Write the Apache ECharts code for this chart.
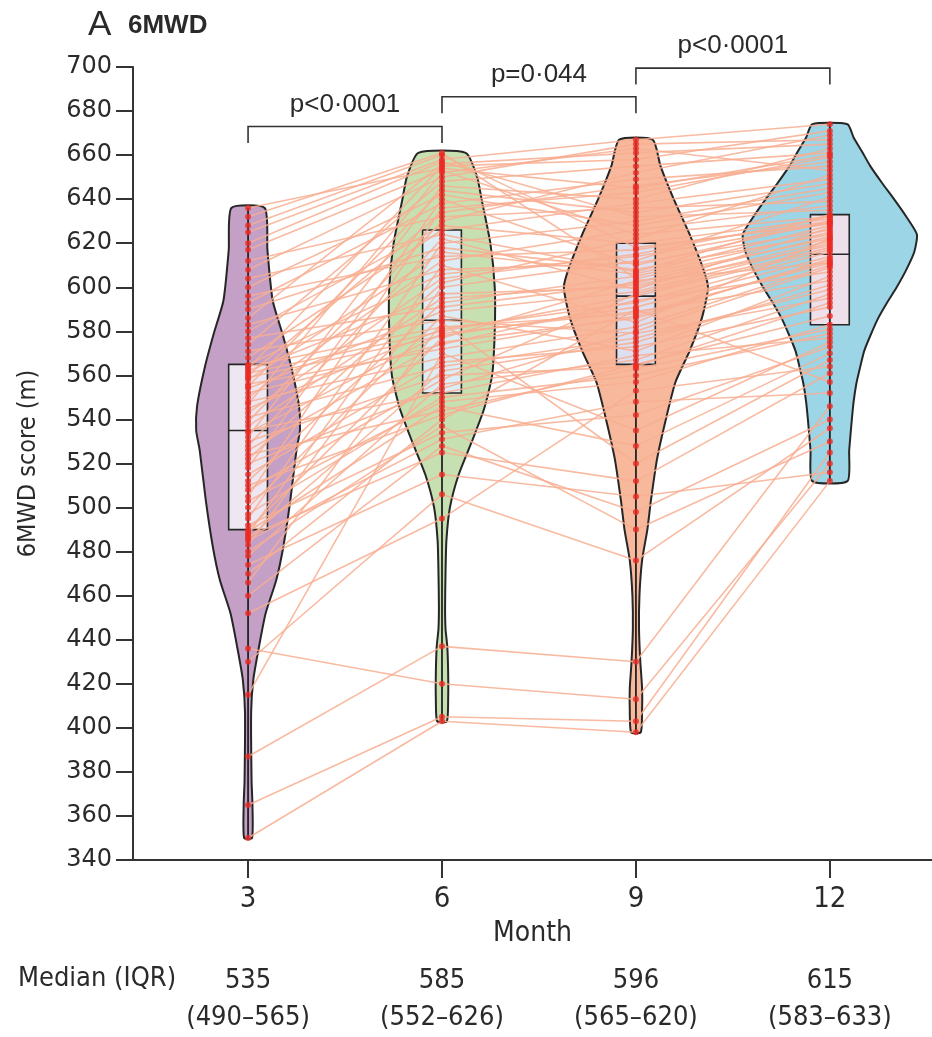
<!DOCTYPE html>
<html lang="en">
<head>
<meta charset="utf-8">
<script src="https://cdn.jsdelivr.net/npm/echarts@6/dist/echarts.min.js"></script>
<style>
    html, body { margin: 0; padding: 0; background: #fff; }
    #chartMain { width: 932px; height: 1037px; }
</style>
</head>
<body>

<div id="chartMain"></div>

<script>
    // months and summary stats printed under the axis
    var months = [3, 6, 9, 12];
    var medians = [535, 585, 596, 615];
    var q1 = [490, 552, 565, 583];
    var q3 = [565, 626, 620, 633];

    // pairwise comparisons shown as brackets
    var bracketFrom = [3, 6, 9];
    var bracketTo = [6, 9, 12];
    var pLabels = ['p<0·0001', 'p=0·044', 'p<0·0001'];

    // one row per patient: 6MWD (m) at month 3, 6, 9, 12
    var patients = [
        [350, 403, 398, 512], [365, 405, 403, 525], [387, 437, 430, 546], [415, 570, 535, 575],
        [430, 506, 476, 536], [436, 420, 413, 520], [452, 495, 553, 564], [460, 528, 498, 540],
        [466, 584, 520, 567], [470, 540, 590, 557], [474, 515, 505, 516], [478, 556, 567, 597],
        [480, 537, 490, 530], [483, 600, 612, 641], [485, 531, 548, 552], [486, 562, 575, 601],
        [487, 525, 512, 561], [488, 610, 584, 622], [489, 546, 528, 570], [490, 577, 603, 611],
        [492, 534, 542, 573], [495, 620, 630, 645], [497, 550, 560, 579], [500, 587, 571, 605],
        [503, 548, 557, 583], [505, 636, 643, 659], [508, 558, 597, 618], [510, 542, 565, 587],
        [512, 593, 605, 625], [515, 566, 573, 591], [518, 640, 610, 630], [520, 554, 580, 609],
        [522, 602, 622, 651], [524, 544, 563, 581], [526, 575, 586, 613], [528, 622, 599, 627],
        [530, 560, 564, 593], [532, 646, 640, 663], [534, 579, 589, 603], [535, 552, 569, 577],
        [537, 595, 601, 619], [539, 630, 652, 669], [541, 564, 577, 599], [543, 604, 615, 632],
        [545, 581, 593, 616], [547, 652, 663, 653], [548, 568, 582, 610], [550, 612, 626, 637],
        [552, 574, 594, 607], [554, 589, 598, 620], [555, 644, 634, 647], [556, 572, 587, 612],
        [558, 616, 606, 628], [559, 578, 591, 614], [560, 634, 646, 657], [561, 580, 596, 617],
        [562, 597, 600, 621], [563, 655, 658, 671], [564, 582, 588, 611], [565, 606, 614, 629],
        [568, 626, 638, 649], [571, 585, 579, 595], [574, 648, 655, 661], [577, 591, 602, 623],
        [580, 628, 620, 631], [583, 608, 611, 626], [586, 656, 661, 665], [590, 618, 608, 624],
        [593, 638, 649, 655], [596, 614, 617, 630], [600, 642, 628, 643], [604, 624, 607, 633],
        [608, 650, 665, 667], [612, 632, 636, 639], [617, 653, 624, 632], [620, 657, 632, 635],
        [625, 658, 667, 674], [628, 660, 618, 629], [632, 661, 604, 622], [636, 654, 645, 660]
    ];

    // violin outlines: [6MWD, relative density]
    var density3 = [[636, 19], [617, 22], [594, 28], [579, 39], [564, 49], [546, 58], [535, 59],
        [526, 55], [503, 48], [482, 40], [467, 32], [452, 20], [437, 12.5], [422, 6], [407, 3.5],
        [376, 4], [365, 5], [350, 4.5]];
    var density6 = [[661, 27], [650, 40], [640, 45], [620, 55], [600, 60], [580, 60], [560, 57],
        [545, 48], [530, 34], [515, 19], [500, 9], [485, 5], [470, 4], [455, 3.5], [445, 4],
        [437, 6], [425, 7], [413, 7], [403, 5.5]];
    var density9 = [[667, 19], [655, 28], [640, 43], [625, 60], [609, 76], [600, 82], [586, 75],
        [571, 61], [557, 45], [540, 34], [522, 24], [503, 17], [490, 13], [476, 7], [460, 4],
        [445, 3.5], [430, 5], [418, 7], [408, 7], [398, 5.5]];
    var density12 = [[674, 20], [668, 27], [662, 36], [655, 46], [647, 60], [640, 73], [632, 87],
        [624, 99], [616, 96], [608, 87], [600, 76], [593, 65], [586, 55], [578, 46], [571, 39],
        [563, 34], [556, 30], [548, 27], [540, 25], [526, 22], [512, 20]];

    var densities = [density3, density6, density9, density12];
    var violinFill = ['#c4a0c6', '#c7e0b1', '#f8b89c', '#9cd5e6'];
    var boxFill = ['#ede7f2', '#dcedf5', '#dde0f0', '#eee0ea'];
    var DENS_TO_MONTH = 1.36 / 100;
    var BOX_HALF = 0.3;
    var INK = '#2a2a2a';
    var NARROW = '"DejaVu Sans Condensed", "Liberation Sans", sans-serif';
    var PLAIN = '"Liberation Sans", Arial, sans-serif';

    function column(j) {
        return patients.map(function (p) { return p[j]; });
    }

    var myChart = echarts.init(document.getElementById('chartMain'));

    var series = [];

    // violins
    series.push({
        type: 'custom',
        z: 1,
        silent: true,
        animation: false,
        data: months.map(function (m, i) { return [m, i]; }),
        renderItem: function (params, api) {
            var i = params.dataIndex, m = months[i], prof = densities[i];
            var right = prof.map(function (d) { return api.coord([m + d[1] * DENS_TO_MONTH, d[0]]); });
            var left = prof.slice().reverse().map(function (d) { return api.coord([m - d[1] * DENS_TO_MONTH, d[0]]); });
            return {
                type: 'polygon',
                shape: { points: right.concat(left), smooth: 0.2 },
                style: { fill: violinFill[i], stroke: '#262626', lineWidth: 2 }
            };
        }
    });

    // boxes
    series.push({
        type: 'custom',
        z: 2,
        silent: true,
        animation: false,
        data: months.map(function (m, i) { return [m, i]; }),
        renderItem: function (params, api) {
            var i = params.dataIndex, m = months[i];
            var tl = api.coord([m - BOX_HALF, q3[i]]);
            var br = api.coord([m + BOX_HALF, q1[i]]);
            var md = api.coord([m, medians[i]]);
            return {
                type: 'group',
                children: [{
                    type: 'rect',
                    shape: { x: tl[0], y: tl[1], width: br[0] - tl[0], height: br[1] - tl[1] },
                    style: { fill: boxFill[i], stroke: '#262626', lineWidth: 1.6 }
                }, {
                    type: 'line',
                    shape: { x1: tl[0], y1: md[1], x2: br[0], y2: md[1] },
                    style: { stroke: '#262626', lineWidth: 1.6 }
                }]
            };
        }
    });

    // individual patient trajectories
    patients.forEach(function (p) {
        series.push({
            type: 'line',
            z: 3,
            silent: true,
            animation: false,
            symbol: 'none',
            data: months.map(function (m, j) { return [m, p[j]]; }),
            lineStyle: { color: '#f8ae92', width: 1.6, opacity: 0.85 }
        });
    });

    // range line through each violin
    series.push({
        type: 'custom',
        z: 4,
        silent: true,
        animation: false,
        data: months.map(function (m, i) { return [m, i]; }),
        renderItem: function (params, api) {
            var i = params.dataIndex, m = months[i], col = column(i);
            var a = api.coord([m, Math.min.apply(null, col)]);
            var b = api.coord([m, Math.max.apply(null, col)]);
            return {
                type: 'line',
                shape: { x1: a[0], y1: a[1], x2: b[0], y2: b[1] },
                style: { stroke: '#222', lineWidth: 1.8 }
            };
        }
    });

    // dots
    var dots = [];
    patients.forEach(function (p) {
        months.forEach(function (m, j) { dots.push([m, p[j]]); });
    });
    series.push({
        type: 'scatter',
        z: 5,
        silent: true,
        animation: false,
        symbolSize: 6,
        data: dots,
        itemStyle: { color: '#ec2a25' }
    });

    // significance brackets
    var BRACKET_LEVEL = [673, 686.5, 699.5];
    var BRACKET_DROP = 7.5;
    series.push({
        type: 'custom',
        z: 5,
        silent: true,
        animation: false,
        clip: false,
        data: pLabels.map(function (t, i) { return [bracketFrom[i], i]; }),
        renderItem: function (params, api) {
            var i = params.dataIndex, lv = BRACKET_LEVEL[i];
            var p1 = api.coord([bracketFrom[i], lv - BRACKET_DROP]);
            var p2 = api.coord([bracketFrom[i], lv]);
            var p3 = api.coord([bracketTo[i], lv]);
            var p4 = api.coord([bracketTo[i], lv - BRACKET_DROP]);
            return {
                type: 'group',
                children: [{
                    type: 'polyline',
                    shape: { points: [p1, p2, p3, p4] },
                    style: { stroke: '#333', lineWidth: 1.6, fill: null }
                }, {
                    type: 'text',
                    x: (p2[0] + p3[0]) / 2,
                    y: p2[1] - 22,
                    style: { text: pLabels[i], font: '26px ' + PLAIN, fill: INK, align: 'center', verticalAlign: 'middle' }
                }]
            };
        }
    });

    // median (IQR) row under the axis
    series.push({
        type: 'custom',
        z: 5,
        silent: true,
        animation: false,
        clip: false,
        data: months.map(function (m, i) { return [m, i]; }),
        renderItem: function (params, api) {
            var i = params.dataIndex;
            var base = api.coord([months[i], 340]);
            return {
                type: 'group',
                children: [{
                    type: 'text', x: base[0], y: base[1] + 121,
                    style: { text: String(medians[i]), font: '27px ' + NARROW, fill: INK, align: 'center', verticalAlign: 'middle' }
                }, {
                    type: 'text', x: base[0], y: base[1] + 158,
                    style: { text: '(' + q1[i] + '–' + q3[i] + ')', font: '27px ' + NARROW, fill: INK, align: 'center', verticalAlign: 'middle' }
                }]
            };
        }
    });

    myChart.setOption({
        animation: false,
        grid: { left: 133, right: 0, top: 67, bottom: 177, containLabel: false, outerBoundsMode: 'none' },
        graphic: [
            { type: 'text', left: 88, top: 8, style: { text: 'A', font: '35px ' + PLAIN, fill: INK } },
            { type: 'text', left: 128, top: 13, style: { text: '6MWD', font: 'bold 26px ' + PLAIN, fill: INK } },
            { type: 'text', left: 18, top: 965, style: { text: 'Median (IQR)', font: '27px ' + NARROW, fill: INK } }
        ],
        xAxis: {
            type: 'value',
            min: 1.22,
            max: 13.58,
            name: 'Month',
            nameLocation: 'middle',
            nameGap: 60,
            nameTextStyle: { fontFamily: NARROW, fontSize: 28, color: INK },
            splitLine: { show: false },
            axisLine: { show: true, lineStyle: { color: '#333', width: 2 } },
            axisTick: { show: true, customValues: months, length: 18, lineStyle: { color: '#333', width: 2 } },
            axisLabel: { customValues: months, fontFamily: NARROW, fontSize: 29, color: INK, margin: 25 }
        },
        yAxis: {
            type: 'value',
            min: 340,
            max: 700,
            interval: 20,
            name: '6MWD score (m)',
            nameLocation: 'middle',
            nameGap: 92,
            nameRotate: 90,
            nameTextStyle: { fontFamily: NARROW, fontSize: 25, color: INK },
            splitLine: { show: false },
            axisLine: { show: true, lineStyle: { color: '#333', width: 2 } },
            axisTick: { show: true, length: 17, lineStyle: { color: '#333', width: 2 } },
            axisLabel: { fontFamily: '"DejaVu Sans", sans-serif', fontSize: 24, color: INK, margin: 21 }
        },
        series: series
    });
</script>
</body>
</html>
